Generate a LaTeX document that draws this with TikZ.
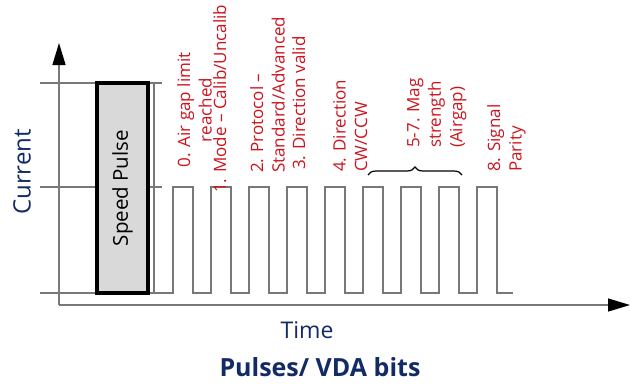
\documentclass[tikz,border=0pt]{standalone}
\usepackage{fontspec}
\setmainfont{Open Sans}
\usetikzlibrary{arrows.meta,decorations.pathreplacing}
\definecolor{lbred}{RGB}{204,20,30}
\definecolor{navy}{RGB}{18,42,102}
\definecolor{wavegray}{RGB}{120,120,120}
\definecolor{boxgray}{RGB}{217,217,217}
\begin{document}
\begin{tikzpicture}[x=1pt,y=-1pt,
  wave/.style={draw=wavegray,line width=1.3pt},
  axis/.style={draw=wavegray,line width=1.4pt,-{Triangle[length=22pt,width=13pt,color=black]}},
  bitlabel/.style={rotate=90,text=lbred,inner sep=0pt,anchor=north west,align=left,
    font=\fontsize{17}{21.5}\selectfont},
  axlabel/.style={text=navy,inner sep=0pt,font=\fontsize{23}{27}\selectfont},
  spbox/.style={draw=black,line width=3.5pt,fill=boxgray}]
\useasboundingbox (0,0) rectangle (631,388);
% axes
\coordinate (o) at (59,305);
\coordinate (ytip) at (59,43);
\coordinate (xtip) at (630,305);
\draw[axis] (o) -- (ytip);
\draw[axis] (o) -- (xtip);
% grid lines
\draw[wave] (40,83) -- (162,83);
\draw[wave] (40,187) -- (162,187);
\draw[wave] (154,83) -- (154,293);
% waveform
\draw[wave] (40,293)
  \foreach \k in {0,...,8} {
    -- ({173+38*\k},293) -- ({173+38*\k},187) -- ({193+38*\k},187) -- ({193+38*\k},293)
  } -- (513,293);
% speed pulse box
\node[spbox,minimum width=51pt,minimum height=210pt,inner sep=0pt] (sp) at (122.5,188) {};
\node[rotate=90,font=\fontsize{20.5}{24}\selectfont] (sptext) at (sp.center) {Speed Pulse};
% bit labels
\node[bitlabel,anchor=north,align=center] (b0) at (177,110) {0. Air gap limit\\reached};
\node[bitlabel] (b1) at (213,193) {1. Mode – Calib/Uncalib};
\node[bitlabel] (b2) at (250,173) {2. Protocol –\\Standard/Advanced};
\node[bitlabel] (b3) at (292,170) {3. Direction valid};
\node[bitlabel] (b4) at (333,172) {4. Direction\\CW/CCW};
\node[bitlabel] (b5) at (407,148) {5-7. Mag\\strength\\(Airgap)};
\node[bitlabel] (b8) at (487,172) {8. Signal\\Parity};
% brace
\coordinate (brL) at (368,175);
\coordinate (brR) at (462,175);
\draw[line width=1.2pt,decorate,decoration={brace,amplitude=8pt}] (brL) -- (brR);
% axis labels
\node[axlabel,rotate=90,font=\fontsize{24}{28}\selectfont] (cur) at (22,172) {Current};
\node[axlabel] (time) at (307,330) {Time};
\node[axlabel,font=\fontsize{25}{30}\selectfont\bfseries] (title) at (320,367) {Pulses/ VDA bits};
\end{tikzpicture}
\end{document}
